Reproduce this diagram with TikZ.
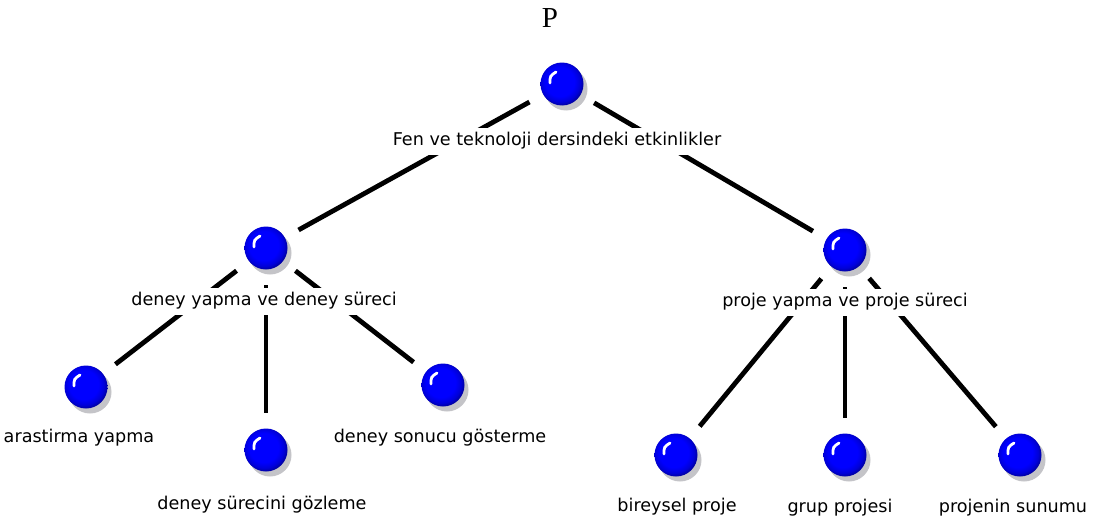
\documentclass[tikz,border=0pt]{standalone}
\usepackage{fontspec}
\newfontfamily\lblfont{DejaVu Sans}
\newfontfamily\pfont{Liberation Serif}
\usetikzlibrary{shadows}
\definecolor{shadowgray}{RGB}{196,196,200}
\pgfdeclareradialshading{ballshade}{\pgfpoint{-4bp}{4bp}}{color(0bp)=(blue); color(17bp)=(blue); color(23bp)=(blue!85!black); color(29bp)=(blue!50!black); color(50bp)=(blue!50!black)}
\tikzset{
  ballst/.style={circle, minimum size=43pt, inner sep=0pt, shading=ballshade,
    drop shadow={shadow xshift=4pt, shadow yshift=-5pt, fill=shadowgray, opacity=1},
    path picture={\draw[white, line width=2.8pt, line cap=round]
      ([shift={(-12,-1)}]path picture bounding box.center) .. controls
      ([shift={(-12,-8)}]path picture bounding box.center) ..
      ([shift={(-6,-12)}]path picture bounding box.center);}},
  edge/.style={line width=4.8pt, shorten <=15.5pt, shorten >=15.5pt},
  lbl/.style={font=\lblfont\fontsize{17.6}{20}\selectfont, fill=white, inner xsep=2pt,
    inner ysep=0pt, text height=12.5pt, text depth=4pt, minimum height=27pt},
}
\begin{document}
\begin{tikzpicture}[x=1pt,y=-1pt]
\useasboundingbox[fill=white] (0,0) rectangle (1099,527);
\node[font=\pfont\fontsize{29}{30}\selectfont, inner sep=0pt] (ptitle) at (550,18) {P};
% balls
\node[ballst] (root) at (562,84) {};
\node[ballst] (cl) at (266,248) {};
\node[ballst] (cr) at (845,250) {};
\node[ballst] (l1) at (86,387) {};
\node[ballst] (l2) at (266,450) {};
\node[ballst] (l3) at (443,385) {};
\node[ballst] (r1) at (676,455) {};
\node[ballst] (r2) at (845,455) {};
\node[ballst] (r3) at (1020,455) {};
% connectors
\draw[edge] (root) -- (cl);
\draw[edge] (root) -- (cr);
\draw[edge] (cl) -- (l1);
\draw[edge] (cl) -- (l2);
\draw[edge] (cl) -- (l3);
\draw[edge] (cr) -- (r1);
\draw[edge] (cr) -- (r2);
\draw[edge] (cr) -- (r3);
% labels
\node[lbl] (troot) at (557,141) {Fen ve teknoloji dersindeki etkinlikler};
\node[lbl] (tcl) at (264,301) {deney yapma ve deney süreci};
\node[lbl] (tcr) at (845,302) {proje yapma ve proje süreci};
\node[lbl] (tl1) at (79,438) {arastirma yapma};
\node[lbl] (tl2) at (262,505) {deney sürecini gözleme};
\node[lbl] (tl3) at (440,438) {deney sonucu gösterme};
\node[lbl] (tr1) at (677,507) {bireysel proje};
\node[lbl] (tr2) at (840,508) {grup projesi};
\node[lbl] (tr3) at (1013,508) {projenin sunumu};
\end{tikzpicture}
\end{document}
